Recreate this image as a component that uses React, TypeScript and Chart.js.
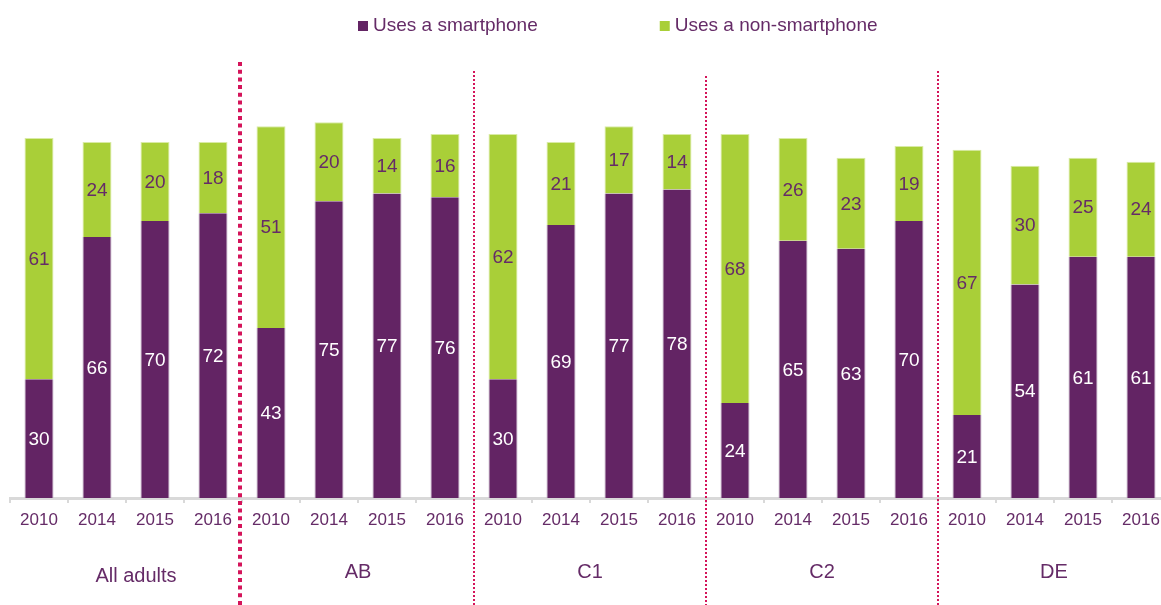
import React, { useEffect, useRef } from "react";
import { Chart, registerables } from "chart.js";

Chart.register(...registerables);

const years = ["2010", "2014", "2015", "2016"];
const groups = ["All adults", "AB", "C1", "C2", "DE"];
const tickLabels = groups.flatMap(() => years);

const smartphone = [30, 66, 70, 72, 43, 75, 77, 76, 30, 69, 77, 78, 24, 65, 63, 70, 21, 54, 61, 61];
const nonSmartphone = [61, 24, 20, 18, 51, 20, 14, 16, 62, 21, 17, 14, 68, 26, 23, 19, 67, 30, 25, 24];

const seriesNames = ["Uses a smartphone", "Uses a non-smartphone"];

const PURPLE = "#632464";
const GREEN = "#A9CF38";
const TEXT = "#652B67";
const RED = "#D4145A";
const GREY = "#D9D9D9";
const FONT = "'Liberation Sans', Arial, sans-serif";

const overlayPlugin = {
  id: "overlay",
  afterDatasetsDraw(chart: any) {
    const ctx = chart.ctx;
    ctx.save();
    ctx.font = `19px ${FONT}`;
    ctx.textAlign = "center";
    ctx.textBaseline = "middle";
    chart.data.datasets.forEach((ds: any, di: number) => {
      const meta = chart.getDatasetMeta(di);
      meta.data.forEach((el: any, i: number) => {
        const p = el.getProps(["x", "y", "base"], true);
        ctx.fillStyle = di === 0 ? "#FFFFFF" : TEXT;
        ctx.fillText(String(ds.data[i]), p.x, (p.y + p.base) / 2 + 1);
      });
    });
    ctx.restore();
  },
  afterDraw(chart: any) {
    const ctx = chart.ctx;
    const xs = chart.scales.x;
    const H = chart.height;
    ctx.save();
    // group separators
    for (let g = 1; g < groups.length; g++) {
      const i = g * years.length;
      const x = (xs.getPixelForValue(i - 1) + xs.getPixelForValue(i)) / 2 - (g === 1 ? 2 : 0);
      ctx.beginPath();
      ctx.strokeStyle = RED;
      if (g === 1) {
        ctx.lineWidth = 4;
        ctx.setLineDash([4, 3.7]);
        ctx.moveTo(x, 62);
      } else {
        ctx.lineWidth = 2;
        ctx.setLineDash([2, 2]);
        ctx.moveTo(x, g === 3 ? 76 : 71);
      }
      ctx.lineTo(x, H);
      ctx.stroke();
    }
    ctx.setLineDash([]);
    // group labels
    ctx.font = `20px ${FONT}`;
    ctx.fillStyle = TEXT;
    ctx.textAlign = "center";
    ctx.textBaseline = "middle";
    groups.forEach((name, g) => {
      const a = xs.getPixelForValue(g * years.length);
      const b = xs.getPixelForValue(g * years.length + years.length - 1);
      ctx.fillText(name, (a + b) / 2 + (g === 0 ? 10 : 0), g === 0 ? 576 : 572);
    });
    // legend
    ctx.font = `19px ${FONT}`;
    ctx.textAlign = "left";
    let lx = 358;
    const colors = [PURPLE, GREEN];
    seriesNames.forEach((name, k) => {
      ctx.fillStyle = colors[k];
      ctx.fillRect(lx, 21, 10, 10);
      ctx.fillStyle = TEXT;
      ctx.fillText(name, lx + 15, 26);
      lx += 15 + ctx.measureText(name).width + 122;
    });
    ctx.restore();
  },
};

export default function App() {
  const ref = useRef<HTMLCanvasElement | null>(null);
  useEffect(() => {
    if (!ref.current) return;
    const chart = new Chart(ref.current, {
      type: "bar",
      data: {
        labels: tickLabels,
        datasets: [
          {
            label: seriesNames[0],
            data: smartphone,
            backgroundColor: PURPLE,
            borderColor: "#b9a0ba",
            borderWidth: { left: 1, right: 1, top: 0, bottom: 0 },
            categoryPercentage: 1,
            barPercentage: 0.5,
          },
          {
            label: seriesNames[1],
            data: nonSmartphone,
            backgroundColor: GREEN,
            borderColor: "#d9eba5",
            borderWidth: { left: 1, right: 1, top: 1, bottom: 0 },
            categoryPercentage: 1,
            barPercentage: 0.5,
          },
        ],
      },
      options: {
        responsive: false,
        animation: false,
        layout: { padding: { top: 102.4, left: 10, right: 0, bottom: 0 } },
        plugins: {
          legend: { display: false },
          tooltip: { enabled: false },
        },
        scales: {
          x: {
            stacked: true,
            afterFit: (scale: any) => {
              scale.height = 107;
            },
            border: { display: true, color: GREY, width: 3 },
            grid: {
              display: true,
              drawOnChartArea: false,
              drawTicks: true,
              tickLength: 5,
              color: GREY,
              lineWidth: 2,
              offset: true,
            },
            ticks: {
              color: TEXT,
              font: { family: FONT, size: 17 },
              padding: 7,
              maxRotation: 0,
              autoSkip: false,
            },
          },
          y: {
            stacked: true,
            display: false,
            min: 0,
            max: 100,
          },
        },
      },
      plugins: [overlayPlugin],
    });
    return () => chart.destroy();
  }, []);
  return (
    <div style={{ position: "fixed", left: 0, top: 0, width: 1161, height: 605, overflow: "hidden", background: "#fff" }}>
      <canvas ref={ref} width={1170} height={605} style={{ width: 1170, height: 605, display: "block" }} />
    </div>
  );
}
